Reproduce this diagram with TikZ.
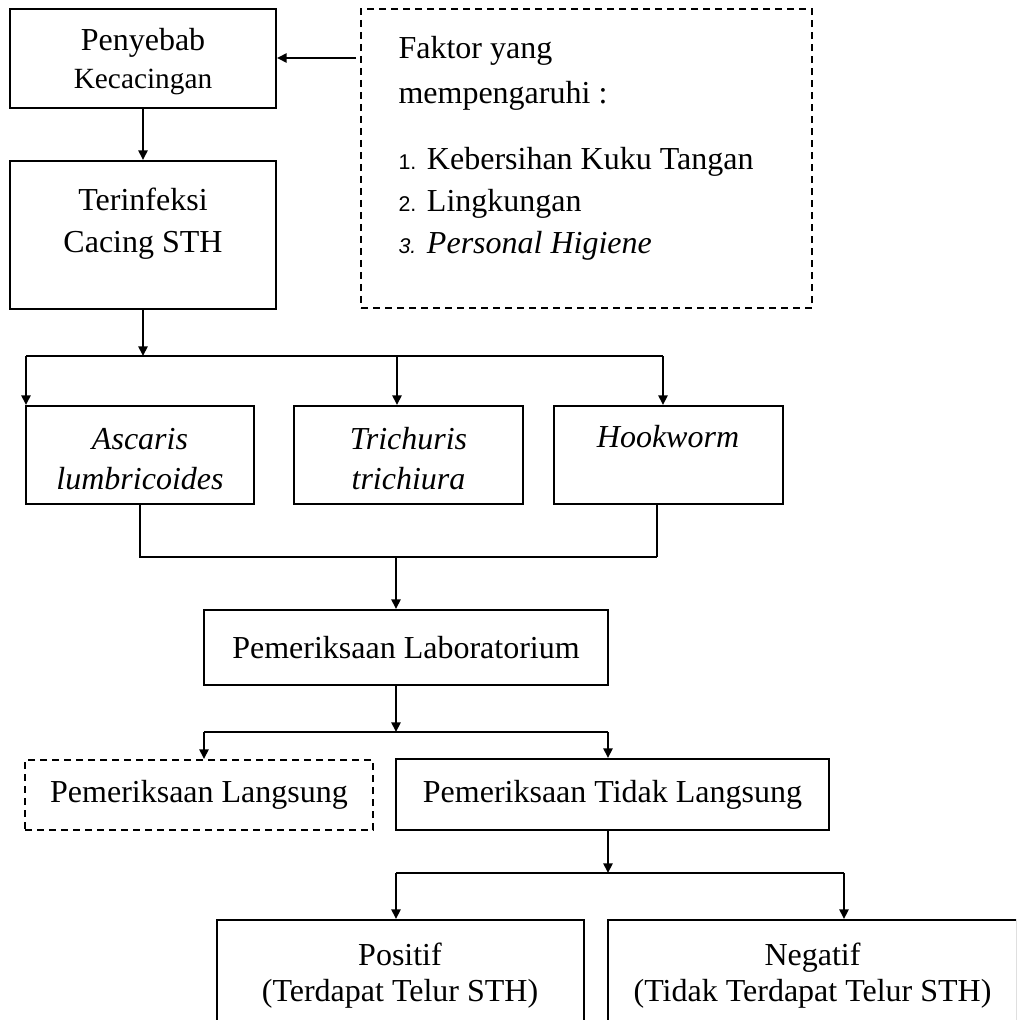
\documentclass[tikz,border=0pt]{standalone}
\usepackage{fontspec}
\setmainfont{Liberation Serif}
\newfontfamily\numfont{Liberation Sans}
\usetikzlibrary{arrows.meta}
\tikzset{
  flowbox/.style={draw, line width=0.75pt, rectangle, inner sep=0pt, align=center, font=\fontsize{12}{15}\selectfont},
  flowdash/.style={dash pattern=on 2.6pt off 1.9pt},
  flowtext/.style={inner sep=0pt, align=center, font=\fontsize{12}{15}\selectfont},
  conn/.style={line width=0.8pt},
  arr/.style={conn, -{Triangle[length=3.6pt, width=3.4pt]}}
}
\newcommand{\sthbox}[6][]{\node at (#2) (#3) [flowbox, minimum width=#4*0.375pt, minimum height=#5*0.375pt, #1] {#6};}
\newcommand{\sthlabel}[4][]{\node at (#2) (#3) [flowtext, #1] {#4};}
\newcommand{\stharrow}[2]{\draw [arr] (#1) -- (#2);}
\newcommand{\sthline}[2]{\draw [conn] (#1) -- (#2);}
\newcommand{\nomor}[1]{{\numfont\fontsize{8}{9}\selectfont #1}}

\begin{document}
\begin{tikzpicture}[x=0.375pt, y=-0.375pt]
\clip (0,0) rectangle (1016,1020);

\sthbox{143,58.5}{penyebab}{266}{99}{}
\sthlabel[font=\fontsize{12}{14.25}\selectfont]{143,62}{penyebabtxt}{Penyebab\\{\fontsize{11}{14.25}\selectfont Kecacingan}}
\sthbox{143,235}{infeksi}{266}{148}{}
\sthlabel[font=\fontsize{12}{15.75}\selectfont]{143,223.5}{infeksitxt}{Terinfeksi\\Cacing STH}
\sthbox[flowdash]{586.5,158.5}{faktor}{451}{299}{}
\sthlabel[align=left, anchor=north west, font=\fontsize{12}{15.75}\selectfont]{398,36}{faktortxt}{Faktor yang\\[1.2pt]mempengaruhi :\\[9pt]\nomor{1.} Kebersihan Kuku Tangan\\\nomor{2.} Lingkungan\\\nomor{\itshape 3.} \textit{Personal Higiene}}
\coordinate (faktorout) at (356,58);
\stharrow{faktorout}{faktorout -| penyebab.east}
\stharrow{penyebab.south}{infeksi.north}

\sthbox{140,455}{ascaris}{228}{98}{}
\sthbox{408.5,455}{trichuris}{229}{98}{}
\sthbox{668.5,455}{hookworm}{229}{98}{}
\sthlabel{140,459}{ascaristxt}{\textit{Ascaris}\\\textit{lumbricoides}}
\sthlabel{408.5,459}{trichuristxt}{\textit{Trichuris}\\\textit{trichiura}}
\sthlabel{668,437}{hookwormtxt}{\textit{Hookworm}}

\coordinate (busAl) at (26,356);
\coordinate (busAm) at (397,356);
\coordinate (busAr) at (663,356);
\stharrow{infeksi.south}{infeksi.south |- busAl}
\sthline{busAl}{busAr}
\stharrow{busAl}{busAl |- ascaris.north}
\stharrow{busAm}{busAm |- trichuris.north}
\stharrow{busAr}{busAr |- hookworm.north}

\sthbox{406,647.5}{lab}{404}{75}{Pemeriksaan Laboratorium}
\coordinate (busBl) at (139,557);
\coordinate (busBm) at (396,557);
\coordinate (busBr) at (657,557);
\sthline{ascaris.south}{ascaris.south |- busBl}
\sthline{busBr |- hookworm.south}{busBr}
\sthline{busBl}{busBr}
\stharrow{busBm}{busBm |- lab.north}

\sthbox[flowdash]{199,795}{langsung}{348}{70}{Pemeriksaan Langsung}
\sthbox{612.5,794.5}{tidak}{433}{71}{Pemeriksaan Tidak Langsung}
\coordinate (busCl) at (204,732);
\coordinate (busCm) at (396,732);
\coordinate (busCr) at (608,732);
\stharrow{busCm |- lab.south}{busCm}
\sthline{busCl}{busCr}
\stharrow{busCl}{busCl |- langsung.north}
\stharrow{busCr}{busCr |- tidak.north}

\sthbox{400.5,990}{positif}{367}{140}{}
\sthbox{812.5,990}{negatif}{409}{140}{}
\sthlabel[font=\fontsize{12}{13.5}\selectfont]{400,975.5}{positiftxt}{Positif\\(Terdapat Telur STH)}
\sthlabel[font=\fontsize{12}{13.5}\selectfont]{812.5,975.5}{negatiftxt}{Negatif\\(Tidak Terdapat Telur STH)}
\coordinate (busDl) at (396,873);
\coordinate (busDm) at (608,873);
\coordinate (busDr) at (844,873);
\stharrow{busDm |- tidak.south}{busDm}
\sthline{busDl}{busDr}
\stharrow{busDl}{busDl |- positif.north}
\stharrow{busDr}{busDr |- negatif.north}
\end{tikzpicture}
\end{document}
